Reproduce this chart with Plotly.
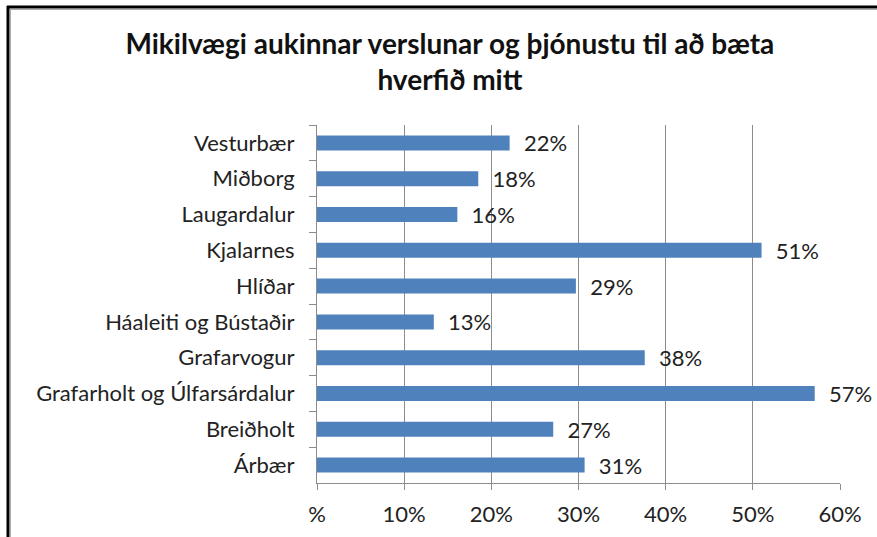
import plotly.graph_objects as go

categories = ["Vesturbær", "Miðborg", "Laugardalur", "Kjalarnes", "Hlíðar",
              "Háaleiti og Bústaðir", "Grafarvogur", "Grafarholt og Úlfarsárdalur",
              "Breiðholt", "Árbær"]
values = [0.221, 0.185, 0.161, 0.51, 0.297, 0.134, 0.376, 0.571, 0.271, 0.307]
labels = ["22%", "18%", "16%", "51%", "29%", "13%", "38%", "57%", "27%", "31%"]
tick_vals = [0, 0.1, 0.2, 0.3, 0.4, 0.5, 0.6]
tick_text = ["%", "10%", "20%", "30%", "40%", "50%", "60%"]
title_text = "<b>Mikilvægi aukinnar verslunar og þjónustu til að bæta<br>hverfið mitt</b>"

W, H = 877, 537
ML, MR, MT, MB = 317, 37, 125, 54
font_family = "Lato, Open Sans, sans-serif"
TXT = "#222222"
GRID = "#8C8C8C"
FS = 22

fig = go.Figure(go.Bar(
    y=categories, x=values, orientation="h",
    marker=dict(color="#4F81BD", line=dict(width=0)),
    text=labels, texttemplate="\u00a0\u00a0%{text}",
    textposition="outside", cliponaxis=False, constraintext="none",
    textfont=dict(size=FS, color=TXT, family=font_family),
    hoverinfo="skip",
))

def px_to_paper_x(px):
    return (px - ML) / (W - ML - MR)

def px_to_paper_y(py):
    return 1 - (py - MT) / (H - MT - MB)

shapes = [
    dict(type="line", xref="paper", yref="paper",
         x0=px_to_paper_x(7), x1=px_to_paper_x(880),
         y0=px_to_paper_y(7), y1=px_to_paper_y(7),
         line=dict(color="black", width=3)),
    dict(type="line", xref="paper", yref="paper",
         x0=px_to_paper_x(8), x1=px_to_paper_x(8),
         y0=px_to_paper_y(6), y1=px_to_paper_y(540),
         line=dict(color="black", width=3)),
    dict(type="line", xref="paper", yref="paper",
         x0=px_to_paper_x(10), x1=px_to_paper_x(880),
         y0=px_to_paper_y(9.5), y1=px_to_paper_y(9.5),
         line=dict(color="#AAAAAA", width=1)),
    dict(type="line", xref="paper", yref="paper",
         x0=px_to_paper_x(10.5), x1=px_to_paper_x(10.5),
         y0=px_to_paper_y(9), y1=px_to_paper_y(540),
         line=dict(color="#AAAAAA", width=1)),
]

fig.update_layout(
    width=W, height=H,
    margin=dict(l=ML, r=MR, t=MT, b=MB, autoexpand=False),
    paper_bgcolor="white", plot_bgcolor="white",
    title=dict(text=title_text, x=0.513, xanchor="center", y=0.9, yanchor="middle",
               font=dict(size=28, color="#111111", family=font_family)),
    bargap=0.58,
    showlegend=False,
    shapes=shapes,
    font=dict(family=font_family, size=FS, color=TXT),
)
fig.update_xaxes(
    range=[0, 0.6], tickvals=tick_vals, ticktext=tick_text,
    showgrid=True, gridcolor=GRID, gridwidth=1,
    showline=True, linecolor=GRID, linewidth=1,
    ticks="outside", ticklen=6, tickcolor=GRID, ticklabelstandoff=6,
    zeroline=False, tickfont=dict(size=FS, color=TXT),
)
fig.update_yaxes(
    autorange="reversed", categoryorder="array", categoryarray=categories,
    showline=True, linecolor=GRID, linewidth=1,
    ticks="outside", ticklen=7, tickcolor=GRID, tickson="boundaries",
    showgrid=False, ticklabelstandoff=17, tickfont=dict(size=FS, color=TXT),
)

fig.write_html("out.html", config={"displayModeBar": False},
               post_script="document.body.style.margin='0';")
